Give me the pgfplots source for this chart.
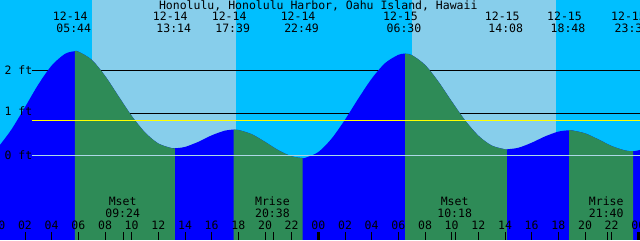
\documentclass[border=0pt]{standalone}
\usepackage{pgfplots}
\pgfplotsset{compat=1.18}
\usepackage{fontspec}
\setmainfont{DejaVu Sans Mono}
\newcommand\tf{\fontsize{11.5pt}{12pt}\selectfont}
\definecolor{night}{HTML}{00BFFF}
\definecolor{day}{HTML}{87CEEB}
\definecolor{flood}{HTML}{0000FF}
\definecolor{ebb}{HTML}{2E8B57}
\definecolor{datum}{HTML}{ADD8E6}
\definecolor{msl}{HTML}{FFFF00}
\begin{document}
\begin{tikzpicture}
\begin{axis}[
  at={(0,0)}, anchor=south west,
  width=640pt, height=240pt, scale only axis,
  xmin=0.125, xmax=48.125, ymin=-1.993, ymax=3.667,
  axis line style={draw=none},
  axis background/.style={fill=night},
  ytick=\empty,
  xtick={2,4,...,48},
  xticklabels={02,04,06,08,10,12,14,16,18,20,22,00,02,04,06,08,10,12,14,16,18,20,22,00},
  xtick pos=bottom,
  tick align=inside,
  major tick length=8pt,
  tick style={black, line width=1pt},
  xticklabel style={font=\tf, anchor=base, yshift=10.7pt, inner sep=0pt, overlay},
  axis on top,
  clip=true,
  clip bounding box=upper bound,
  every node/.append style={overlay},
]
% daylight bands
\addplot[fill=day, draw=none] coordinates {(7.02,-1.993) (7.02,3.667) (17.83,3.667) (17.83,-1.993)};
\addplot[fill=day, draw=none] coordinates {(31.02,-1.993) (31.02,3.667) (41.85,3.667) (41.85,-1.993)};
% 2 ft and 1 ft lines (behind water)
\addplot[black, line width=1pt] coordinates {(2.5,2) (48.125,2)};
\addplot[black, line width=1pt] coordinates {(2.5,1) (48.125,1)};
% water: whole area (rising colour)
\addplot[fill=flood, draw=none, smooth] coordinates {
 (0.125,0.250) (1,0.621) (2,1.141) (3,1.675) (4,2.121) (5,2.397) (5.733,2.46)
 (6,2.450) (7,2.259) (8,1.879) (9,1.405) (10,0.934) (11,0.544) (12,0.283) (13,0.174) (13.233,0.17)
 (14,0.202) (15,0.322) (16,0.475) (17,0.587) (17.65,0.61)
 (18,0.602) (19,0.503) (20,0.322) (21,0.125) (22,-0.019) (22.817,-0.06)
 (23,-0.057) (24,0.081) (25,0.400) (26,0.845) (27,1.343) (28,1.811) (29,2.177) (30,2.374) (30.5,2.40)
 (31,2.369) (32,2.137) (33,1.744) (34,1.279) (35,0.831) (36,0.468) (37,0.235) (38,0.146) (38.133,0.145)
 (39,0.182) (40,0.301) (41,0.449) (42,0.563) (42.8,0.595)
 (43,0.593) (44,0.523) (45,0.380) (46,0.224) (47,0.119) (47.6,0.10)
 (48.125,0.131)
} -- (axis cs:48.125,-1.993) -- (axis cs:0.125,-1.993) -- cycle;
% falling tide segments
\addplot[fill=ebb, draw=none, smooth] coordinates {
 (5.733,2.46) (6,2.450) (7,2.259) (8,1.879) (9,1.405) (10,0.934) (11,0.544) (12,0.283) (13,0.174) (13.233,0.17)
} -- (axis cs:13.233,-1.993) -- (axis cs:5.733,-1.993) -- cycle;
\addplot[fill=ebb, draw=none, smooth] coordinates {
 (17.65,0.61) (18,0.602) (19,0.503) (20,0.322) (21,0.125) (22,-0.019) (22.817,-0.06)
} -- (axis cs:22.817,-1.993) -- (axis cs:17.65,-1.993) -- cycle;
\addplot[fill=ebb, draw=none, smooth] coordinates {
 (30.5,2.40) (31,2.369) (32,2.137) (33,1.744) (34,1.279) (35,0.831) (36,0.468) (37,0.235) (38,0.146) (38.133,0.145)
} -- (axis cs:38.133,-1.993) -- (axis cs:30.5,-1.993) -- cycle;
\addplot[fill=ebb, draw=none, smooth] coordinates {
 (42.8,0.595) (43,0.593) (44,0.523) (45,0.380) (46,0.224) (47,0.119) (47.6,0.10)
} -- (axis cs:47.6,-1.993) -- (axis cs:42.8,-1.993) -- cycle;
% mean level and datum
\addplot[msl, line width=1pt] coordinates {(2.5,0.83) (48.125,0.83)};
\addplot[datum, line width=1pt] coordinates {(2.5,0) (48.125,0)};
% day boundary ticks
\addplot[black, line width=3pt] coordinates {(24,-1.993) (24,-1.804)};
\addplot[black, line width=3pt] coordinates {(48,-1.993) (48,-1.804)};
% moon event ticks
\addplot[black, line width=0.8pt] coordinates {(9.4,-1.993) (9.4,-1.804)};
\addplot[black, line width=0.8pt] coordinates {(20.633,-1.993) (20.633,-1.804)};
\addplot[black, line width=0.8pt] coordinates {(34.3,-1.993) (34.3,-1.804)};
\addplot[black, line width=0.8pt] coordinates {(45.667,-1.993) (45.667,-1.804)};
% texts
\node[font=\tf, anchor=base] at (axis description cs:0.4973,0.9604) {Honolulu, Honolulu Harbor, Oahu Island, Hawaii};
\node[font=\tf, anchor=base west] at (axis cs:0.2,1.915) {2 ft};
\node[font=\tf, anchor=base west] at (axis cs:0.2,0.932) {1 ft};
\node[font=\tf, anchor=base west] at (axis cs:0.2,-0.083) {0 ft};
\node[font=\tf, anchor=base, inner sep=0pt] at (axis cs:0,-1.993) [yshift=10.7pt] {00};
% tide events
\node[font=\tf, anchor=base, xshift=-4.5pt] at (axis cs:5.733,3.179) {12-14};
\node[font=\tf, anchor=base, xshift=-1pt] at (axis cs:5.733,2.906) {05:44};
\node[font=\tf, anchor=base, xshift=-4.5pt] at (axis cs:13.233,3.179) {12-14};
\node[font=\tf, anchor=base, xshift=-1pt] at (axis cs:13.233,2.906) {13:14};
\node[font=\tf, anchor=base, xshift=-4.5pt] at (axis cs:17.65,3.179) {12-14};
\node[font=\tf, anchor=base, xshift=-1pt] at (axis cs:17.65,2.906) {17:39};
\node[font=\tf, anchor=base, xshift=-4.5pt] at (axis cs:22.817,3.179) {12-14};
\node[font=\tf, anchor=base, xshift=-1pt] at (axis cs:22.817,2.906) {22:49};
\node[font=\tf, anchor=base, xshift=-4.5pt] at (axis cs:30.5,3.179) {12-15};
\node[font=\tf, anchor=base, xshift=-1pt] at (axis cs:30.5,2.906) {06:30};
\node[font=\tf, anchor=base, xshift=-4.5pt] at (axis cs:38.133,3.179) {12-15};
\node[font=\tf, anchor=base, xshift=-1pt] at (axis cs:38.133,2.906) {14:08};
\node[font=\tf, anchor=base, xshift=-4.5pt] at (axis cs:42.8,3.179) {12-15};
\node[font=\tf, anchor=base, xshift=-1pt] at (axis cs:42.8,2.906) {18:48};
\node[font=\tf, anchor=base, xshift=-4.5pt] at (axis cs:47.6,3.179) {12-15};
\node[font=\tf, anchor=base, xshift=-1pt] at (axis cs:47.6,2.906) {23:36};
% moon events
\node[font=\tf, anchor=base, xshift=-1pt] at (axis cs:9.4,-1.191) {Mset};
\node[font=\tf, anchor=base, xshift=-1pt] at (axis cs:9.4,-1.458) {09:24};
\node[font=\tf, anchor=base, xshift=-1pt] at (axis cs:20.633,-1.191) {Mrise};
\node[font=\tf, anchor=base, xshift=-1pt] at (axis cs:20.633,-1.458) {20:38};
\node[font=\tf, anchor=base, xshift=-1pt] at (axis cs:34.3,-1.191) {Mset};
\node[font=\tf, anchor=base, xshift=-1pt] at (axis cs:34.3,-1.458) {10:18};
\node[font=\tf, anchor=base, xshift=-1pt] at (axis cs:45.667,-1.191) {Mrise};
\node[font=\tf, anchor=base, xshift=-1pt] at (axis cs:45.667,-1.458) {21:40};
\end{axis}
\end{tikzpicture}
\end{document}
